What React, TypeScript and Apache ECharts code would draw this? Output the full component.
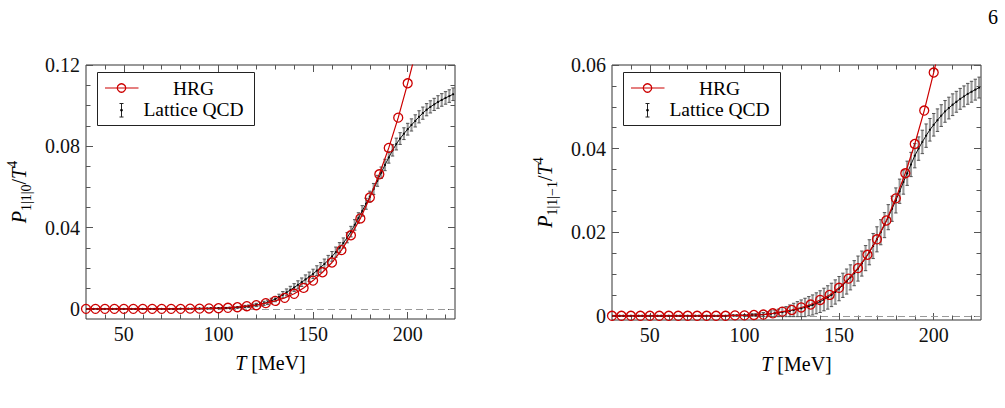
import React, { useEffect, useRef } from "react";
import * as echarts from "echarts";

const FONT = "Liberation Serif";
const RED = "#cc0000";

// HRG curve (T in MeV)
const T_HRG = [30, 35, 40, 45, 50, 55, 60, 65, 70, 75, 80, 85, 90, 95, 100, 105, 110, 115, 120, 125, 130, 135, 140, 145, 150, 155, 160, 165, 170, 175, 180, 185, 190, 195, 200, 205];
const HRG_LEFT = [0, 0, 0, 0, 0, 0, 0, 0, 0, 0, 0, 0.0001, 0.0001, 0.0002, 0.0003, 0.0005, 0.0008, 0.0013, 0.0018, 0.0028, 0.0039, 0.0054, 0.0074, 0.0103, 0.0139, 0.018, 0.0228, 0.0289, 0.0362, 0.0445, 0.0548, 0.0662, 0.0792, 0.0941, 0.111, 0.129];
const HRG_RIGHT = [0, 0, 0, 0, 0, 0, 0, 0, 0, 0, 0, 0, 0, 0.0001, 0.0001, 0.0002, 0.0003, 0.0006, 0.001, 0.0014, 0.002, 0.0027, 0.0038, 0.005, 0.0067, 0.0089, 0.0114, 0.0146, 0.0183, 0.0228, 0.0281, 0.0341, 0.0411, 0.0491, 0.0582, 0.068];

// Lattice QCD points
const T_LAT = [30, 32, 34, 36, 38, 40, 42, 44, 46, 48, 50, 52, 54, 56, 58, 60, 62, 64, 66, 68, 70, 72, 74, 76, 78,
  80, 82, 84, 86, 88, 90, 92, 94, 96, 98,
  100, 102, 104, 106, 108, 110, 112, 114, 116, 118, 120, 122, 124, 126, 128, 130, 132, 134, 136, 138,
  140, 142, 144, 146, 148, 150, 152, 154, 156, 158, 160, 162, 164, 166, 168, 170, 172, 174, 176, 178,
  180, 182, 184, 186, 188, 190, 192, 194, 196, 198, 200, 202, 204, 206, 208, 210, 212, 214, 216, 218,
  220, 222, 224];

const LAT_LEFT = [0, 0, 0, 0, 0, 0, 0, 0, 0, 0, 0, 0, 0, 0, 0, 0, 0, 0, 0, 0, 0, 0, 0, 0, 0,
  0.0001, 0.0001, 0.0001, 0.0001, 0.0002, 0.0002, 0.0002, 0.0002, 0.0003, 0.0003,
  0.0003, 0.0004, 0.0004, 0.0005, 0.0006,
  0.0007, 0.0009, 0.0011, 0.0013, 0.0016,
  0.0019, 0.0023, 0.0027, 0.0032, 0.004,
  0.0048, 0.0058, 0.0069, 0.0081, 0.0093,
  0.0105, 0.0118, 0.0131, 0.0145, 0.0158,
  0.0172, 0.0188, 0.0204, 0.0221, 0.0239,
  0.0258, 0.0279, 0.0301, 0.0324, 0.035,
  0.038, 0.0413, 0.0447, 0.0482, 0.0517,
  0.0552, 0.059, 0.063, 0.067, 0.0708,
  0.0745, 0.078, 0.0811, 0.0838, 0.0862,
  0.0884, 0.0905, 0.0925, 0.0945, 0.0963,
  0.098, 0.0994, 0.1006, 0.1018, 0.1028,
  0.1038, 0.1047, 0.1056];
const LAT_LEFT_ERR = [0.0001, 0.0001, 0.0001, 0.0001, 0.0001, 0.0001, 0.0001, 0.0001, 0.0001, 0.0001, 0.0001, 0.0001, 0.0001, 0.0001, 0.0001, 0.0001, 0.0001, 0.0001, 0.0001, 0.0001, 0.0001, 0.0001, 0.0001, 0.0001, 0.0001,
  0.0001, 0.0001, 0.0001, 0.0001, 0.0001, 0.0001, 0.0001, 0.0001, 0.0001, 0.0001,
  0.0002, 0.0002, 0.0003, 0.0003, 0.0004,
  0.0004, 0.0005, 0.0006, 0.0006, 0.0007,
  0.0008, 0.0009, 0.001, 0.0011, 0.0012,
  0.0013, 0.0014, 0.0016, 0.0017, 0.0018,
  0.0019, 0.002, 0.0021, 0.0022, 0.0023,
  0.0023, 0.0024, 0.0024, 0.0024, 0.0024,
  0.0024, 0.0025, 0.0025, 0.0025, 0.0025,
  0.0026, 0.0026, 0.0026, 0.0026, 0.0027,
  0.0027, 0.0027, 0.0027, 0.0028, 0.0028,
  0.0028, 0.0028, 0.0029, 0.0029, 0.0029,
  0.0029, 0.003, 0.003, 0.003, 0.003,
  0.003, 0.003, 0.003, 0.0031, 0.0031,
  0.0031, 0.0031, 0.0031];

const LAT_RIGHT = [0, 0, 0, 0, 0, 0, 0, 0, 0, 0, 0, 0, 0, 0, 0, 0, 0, 0, 0, 0, 0, 0, 0, 0, 0,
  0, 0, 0, 0, 0, 0, 0.0001, 0.0001, 0.0001, 0.0001,
  0.0001, 0.0001, 0.0002, 0.0002, 0.0003,
  0.0003, 0.0004, 0.0005, 0.0006, 0.0007,
  0.0009, 0.001, 0.0012, 0.0014, 0.0016,
  0.0018, 0.002, 0.0023, 0.0026, 0.003,
  0.0034, 0.0039, 0.0044, 0.005, 0.0057,
  0.0065, 0.0073, 0.0082, 0.0092, 0.0102,
  0.0113, 0.0125, 0.0138, 0.0152, 0.0167,
  0.0183, 0.02, 0.0217, 0.0236, 0.0256,
  0.0276, 0.0298, 0.032, 0.0341, 0.0362,
  0.0383, 0.04, 0.0416, 0.0431, 0.0445,
  0.0457, 0.0468, 0.0479, 0.0489, 0.0497,
  0.0505, 0.0512, 0.0519, 0.0525, 0.0531,
  0.0536, 0.0541, 0.0546];
const LAT_RIGHT_ERR = [0.0001, 0.0001, 0.0001, 0.0001, 0.0001, 0.0001, 0.0001, 0.0001, 0.0001, 0.0001, 0.0001, 0.0001, 0.0001, 0.0001, 0.0001, 0.0001, 0.0001, 0.0001, 0.0001, 0.0001, 0.0001, 0.0001, 0.0001, 0.0001, 0.0001,
  0.0001, 0.0001, 0.0001, 0.0001, 0.0001, 0.0001, 0.0001, 0.0001, 0.0001, 0.0001,
  0.0002, 0.0002, 0.0003, 0.0003, 0.0004,
  0.0005, 0.0006, 0.0007, 0.0008, 0.0009,
  0.0011, 0.0012, 0.0014, 0.0016, 0.0018,
  0.002, 0.0022, 0.0023, 0.0024, 0.0025,
  0.0026, 0.0027, 0.0028, 0.0028, 0.0029,
  0.0029, 0.0029, 0.003, 0.003, 0.003,
  0.003, 0.003, 0.003, 0.003, 0.003,
  0.003, 0.003, 0.003, 0.003, 0.003,
  0.003, 0.0029, 0.0029, 0.0029, 0.0029,
  0.0029, 0.0028, 0.0028, 0.0028, 0.0027,
  0.0027, 0.0027, 0.0026, 0.0026, 0.0026,
  0.0026, 0.0025, 0.0025, 0.0025, 0.0025,
  0.0025, 0.0025, 0.0025];

// axes ticks / labels
const X_MIN = 30, X_MAX = 225;
const X_MAJOR = [50, 100, 150, 200];
const X_MINOR = [40, 60, 70, 80, 90, 110, 120, 130, 140, 160, 170, 180, 190, 210, 220];
const Y_LEFT_RANGE = [-0.005, 0.12];
const Y_LEFT_MAJOR = [0, 0.04, 0.08, 0.12];
const Y_LEFT_MINOR = [0.01, 0.02, 0.03, 0.05, 0.06, 0.07, 0.09, 0.1, 0.11];
const Y_RIGHT_RANGE = [-0.001, 0.06];
const Y_RIGHT_MAJOR = [0, 0.02, 0.04, 0.06];
const Y_RIGHT_MINOR = [0.005, 0.01, 0.015, 0.025, 0.03, 0.035, 0.045, 0.05, 0.055];

const LEGEND_HRG = "HRG";
const LEGEND_LAT = "Lattice QCD";

const TICK_COLOR = "#555";

function makeAxis(opts: any) {
  return {
    type: "value",
    gridIndex: opts.grid,
    position: opts.position,
    min: opts.min,
    max: opts.max,
    axisLine: { show: false, onZero: false },
    splitLine: { show: false },
    axisTick: {
      show: true,
      inside: true,
      length: opts.len,
      customValues: opts.ticks,
      lineStyle: { color: TICK_COLOR, width: 1 },
    },
    axisLabel: opts.labels
      ? {
          show: true,
          customValues: opts.ticks,
          formatter: opts.fmt,
          margin: opts.margin,
          fontFamily: FONT,
          fontSize: 20,
          color: "#111",
        }
      : { show: false },
    ...(opts.extra || {}),
  };
}

const xFmt = (v: number) => String(v);
const yFmt = (v: number) => (v === 0 ? "0" : v.toFixed(2));

function xAxesFor(grid: number, nameExtra: any) {
  return [
    makeAxis({ grid, position: "bottom", min: X_MIN, max: X_MAX, len: 7, ticks: X_MAJOR, labels: true, fmt: xFmt, margin: 5, extra: nameExtra }),
    makeAxis({ grid, position: "bottom", min: X_MIN, max: X_MAX, len: 4.5, ticks: X_MINOR }),
    makeAxis({ grid, position: "top", min: X_MIN, max: X_MAX, len: 7, ticks: X_MAJOR }),
    makeAxis({ grid, position: "top", min: X_MIN, max: X_MAX, len: 4.5, ticks: X_MINOR }),
  ];
}

function yAxesFor(grid: number, range: number[], major: number[], minor: number[], nameExtra: any) {
  return [
    makeAxis({ grid, position: "left", min: range[0], max: range[1], len: 7, ticks: major, labels: true, fmt: yFmt, margin: 6, extra: nameExtra }),
    makeAxis({ grid, position: "left", min: range[0], max: range[1], len: 4.5, ticks: minor }),
    makeAxis({ grid, position: "right", min: range[0], max: range[1], len: 7, ticks: major }),
    makeAxis({ grid, position: "right", min: range[0], max: range[1], len: 4.5, ticks: minor }),
  ];
}

const xName = {
  name: "{i|T} [MeV]",
  nameLocation: "middle",
  nameGap: 32,
  nameTextStyle: {
    fontFamily: FONT,
    fontSize: 20,
    color: "#000",
    lineHeight: 24,
    rich: { i: { fontFamily: FONT, fontSize: 20, fontStyle: "italic", lineHeight: 24, color: "#000" } },
  },
};

function yName(sub: string) {
  return {
    name: "{i|P}{sub|" + sub + "}{n|/}{i|T}{sup|4}",
    nameLocation: "middle",
    nameRotate: 90,
    nameGap: 53,
    nameTextStyle: {
      fontFamily: FONT,
      fontSize: 20,
      color: "#000",
      rich: {
        i: { fontFamily: FONT, fontSize: 20, fontStyle: "italic", lineHeight: 28, color: "#000" },
        n: { fontFamily: FONT, fontSize: 20, lineHeight: 28, color: "#000" },
        sub: { fontFamily: FONT, fontSize: 14, verticalAlign: "bottom", color: "#000" },
        sup: { fontFamily: FONT, fontSize: 14, lineHeight: 18, verticalAlign: "top", color: "#000" },
      },
    },
  };
}

const renderBar = (_params: any, api: any) => {
  const t = api.value(0);
  const v = api.value(1);
  const e = api.value(2);
  const hi = api.coord([t, v + e]);
  const lo = api.coord([t, v - e]);
  const c = api.coord([t, v]);
  const cap = 1.7;
  return {
    type: "group",
    children: [
      { type: "line", shape: { x1: hi[0], y1: hi[1], x2: lo[0], y2: lo[1] }, style: { stroke: "#9a9a9a", lineWidth: 2.1 } },
      { type: "line", shape: { x1: hi[0] - cap, y1: hi[1], x2: hi[0] + cap, y2: hi[1] }, style: { stroke: "#444", lineWidth: 0.9 } },
      { type: "line", shape: { x1: lo[0] - cap, y1: lo[1], x2: lo[0] + cap, y2: lo[1] }, style: { stroke: "#444", lineWidth: 0.9 } },
      { type: "circle", shape: { cx: c[0], cy: c[1], r: 1.1 }, style: { fill: "#000" } },
    ],
  };
};

function panelSeries(xIdx: number, yIdx: number, hrg: number[], lat: number[], err: number[]) {
  const latData = T_LAT.map((t, i) => [t, lat[i], err[i]]);
  const hrgData = T_HRG.map((t, i) =>
    i === T_HRG.length - 1 ? { value: [t, hrg[i]], symbol: "none" } : [t, hrg[i]]
  );
  return [
    {
      type: "custom",
      xAxisIndex: xIdx,
      yAxisIndex: yIdx,
      renderItem: renderBar,
      data: latData,
      encode: { x: 0, y: 1 },
      clip: true,
      z: 2,
      markLine: {
        silent: true,
        symbol: "none",
        label: { show: false },
        lineStyle: { color: "#999", type: [7, 4], width: 1.2 },
        data: [{ yAxis: 0 }],
        z: 1,
      },
    },
    {
      type: "line",
      xAxisIndex: xIdx,
      yAxisIndex: yIdx,
      data: latData.map((d) => [d[0], d[1]]),
      symbol: "none",
      lineStyle: { color: "#111", width: 1 },
      z: 3,
    },
    {
      type: "line",
      xAxisIndex: xIdx,
      yAxisIndex: yIdx,
      data: hrgData,
      symbol: "circle",
      symbolSize: 9,
      showAllSymbol: true,
      clip: true,
      lineStyle: { color: RED, width: 1.2 },
      itemStyle: { color: "rgba(255,255,255,0)", borderColor: RED, borderWidth: 1.3 },
      z: 4,
    },
  ];
}

function legendGraphic(x0: number) {
  const textStyle = { fontFamily: FONT, fontSize: 19.5, fill: "#000", align: "center", verticalAlign: "middle" };
  return [
    { type: "rect", shape: { x: x0, y: 72.5, width: 157, height: 53 }, style: { fill: "#fff", stroke: "#222", lineWidth: 1 }, z: 100 },
    { type: "line", shape: { x1: x0 + 7.5, y1: 88, x2: x0 + 41, y2: 88 }, style: { stroke: RED, lineWidth: 1.2 }, z: 101 },
    { type: "circle", shape: { cx: x0 + 24, cy: 88, r: 4.2 }, style: { fill: "none", stroke: RED, lineWidth: 1.3 }, z: 102 },
    { type: "text", x: x0 + 96, y: 88, style: { ...textStyle, text: LEGEND_HRG }, z: 101 },
    { type: "line", shape: { x1: x0 + 24, y1: 103.5, x2: x0 + 24, y2: 117 }, style: { stroke: "#222", lineWidth: 1 }, z: 101 },
    { type: "line", shape: { x1: x0 + 22, y1: 103.5, x2: x0 + 26, y2: 103.5 }, style: { stroke: "#222", lineWidth: 1 }, z: 101 },
    { type: "line", shape: { x1: x0 + 22, y1: 117, x2: x0 + 26, y2: 117 }, style: { stroke: "#222", lineWidth: 1 }, z: 101 },
    { type: "circle", shape: { cx: x0 + 24, cy: 110.2, r: 1.3 }, style: { fill: "#000" }, z: 102 },
    { type: "text", x: x0 + 96, y: 109, style: { ...textStyle, text: LEGEND_LAT }, z: 101 },
  ];
}

export default function App() {
  const ref = useRef<HTMLDivElement>(null);
  useEffect(() => {
    if (!ref.current) return;
    const chart = echarts.init(ref.current, null, { renderer: "svg" });
    const option: any = {
      animation: false,
      backgroundColor: "#fff",
      textStyle: { fontFamily: FONT },
      grid: [
        { left: 86, top: 65, width: 369, height: 254, show: true, borderColor: "#333", borderWidth: 1, backgroundColor: "rgba(0,0,0,0)" },
        { left: 612, top: 65, width: 369, height: 255, show: true, borderColor: "#333", borderWidth: 1, backgroundColor: "rgba(0,0,0,0)" },
      ],
      xAxis: [...xAxesFor(0, xName), ...xAxesFor(1, xName)],
      yAxis: [
        ...yAxesFor(0, Y_LEFT_RANGE, Y_LEFT_MAJOR, Y_LEFT_MINOR, yName("1|1|0")),
        ...yAxesFor(1, Y_RIGHT_RANGE, Y_RIGHT_MAJOR, Y_RIGHT_MINOR, yName("1|1|\u22121")),
      ],
      series: [
        ...panelSeries(0, 0, HRG_LEFT, LAT_LEFT, LAT_LEFT_ERR),
        ...panelSeries(4, 4, HRG_RIGHT, LAT_RIGHT, LAT_RIGHT_ERR),
      ],
      graphic: [
        ...legendGraphic(97.5),
        ...legendGraphic(623.5),
        {
          type: "text",
          x: 993,
          y: 17,
          style: { text: "6", fontFamily: FONT, fontSize: 20, fill: "#000", align: "center", verticalAlign: "middle" },
          z: 101,
        },
      ],
    };
    chart.setOption(option);
    return () => chart.dispose();
  }, []);
  return <div ref={ref} style={{ position: "absolute", left: 0, top: 0, width: 1005, height: 408 }} />;
}
